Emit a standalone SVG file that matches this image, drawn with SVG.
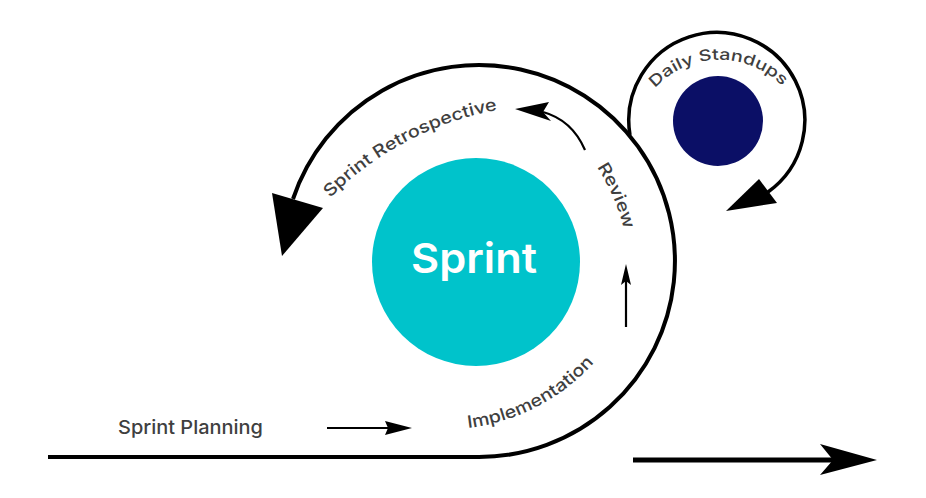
<svg xmlns="http://www.w3.org/2000/svg" width="926" height="498" viewBox="0 0 926 498">
  <style>
    .lbl { font-family: Inter, "Noto Sans", "Liberation Sans", sans-serif; font-weight: 500; fill: #3f3f3f; }
    .line { fill: none; stroke: #000000; stroke-linecap: butt; }
    .head { fill: #000000; stroke: none; }
  </style>
  <defs>
    <path id="pRetro" d="M330,198 A320,320 0 0 1 556,104.5"/>
    <path id="pReview" d="M597,167 A200,200 0 0 1 626,240"/>
    <path id="pImpl" d="M468,428 A203,203 0 0 0 603,352"/>
    <path id="pDaily" d="M655,88 A88,88 0 0 1 790,95"/>
  </defs>
  <rect width="926" height="498" fill="#ffffff"/>

  <g id="connectors">
    <path class="line" stroke-width="4" d="M48,457 H479 A196,196 0 1 0 293,199"/>
    <polygon class="head" points="272,193 323,208 282,256"/>
    <path class="line" stroke-width="3.5" d="M630,135 A88,88 0 1 1 768,192"/>
    <polygon class="head" points="759,179 777,203 726,211"/>
    <path class="line" stroke-width="2.2" d="M585,150 Q572,120 543,112"/>
    <path class="head" d="M515,109 L549,102 L543,112 L551,121 Z"/>
    <path class="line" stroke-width="2.2" d="M626,327 V280"/>
    <path class="head" d="M626,264 L631,285 L626,281 L621,285 Z"/>
    <path class="line" stroke-width="2.2" d="M327,428 H390"/>
    <path class="head" d="M412,428 L385,421 L388,428 L385,435 Z"/>
    <path class="line" stroke-width="5" d="M633,460 H845"/>
    <path class="head" d="M877,460 L820,444 L833,460 L820,475 Z"/>
  </g>

  <g id="sprint">
    <circle cx="476" cy="262" r="104" fill="#00C3CB"/>
    <text x="474" y="273" text-anchor="middle" font-family="Inter, 'Noto Sans', 'Liberation Sans', sans-serif" font-weight="600" font-size="41" fill="#ffffff" textLength="126" lengthAdjust="spacingAndGlyphs">Sprint</text>
  </g>

  <g id="daily-standups">
    <circle cx="718" cy="121" r="45" fill="#0B0F66"/>
    <text class="lbl" font-size="15.5"><textPath href="#pDaily" textLength="142" lengthAdjust="spacingAndGlyphs">Daily Standups</textPath></text>
  </g>

  <g id="sprint-planning">
    <text class="lbl" x="118" y="434" font-size="19" textLength="145" lengthAdjust="spacingAndGlyphs">Sprint Planning</text>
  </g>

  <g id="implementation">
    <text class="lbl" font-size="17"><textPath href="#pImpl" textLength="145" lengthAdjust="spacingAndGlyphs">Implementation</textPath></text>
  </g>

  <g id="review">
    <text class="lbl" font-size="17"><textPath href="#pReview" textLength="68" lengthAdjust="spacingAndGlyphs">Review</textPath></text>
  </g>

  <g id="sprint-retrospective">
    <text class="lbl" font-size="17"><textPath href="#pRetro" textLength="192" lengthAdjust="spacingAndGlyphs">Sprint Retrospective</textPath></text>
  </g>
</svg>
